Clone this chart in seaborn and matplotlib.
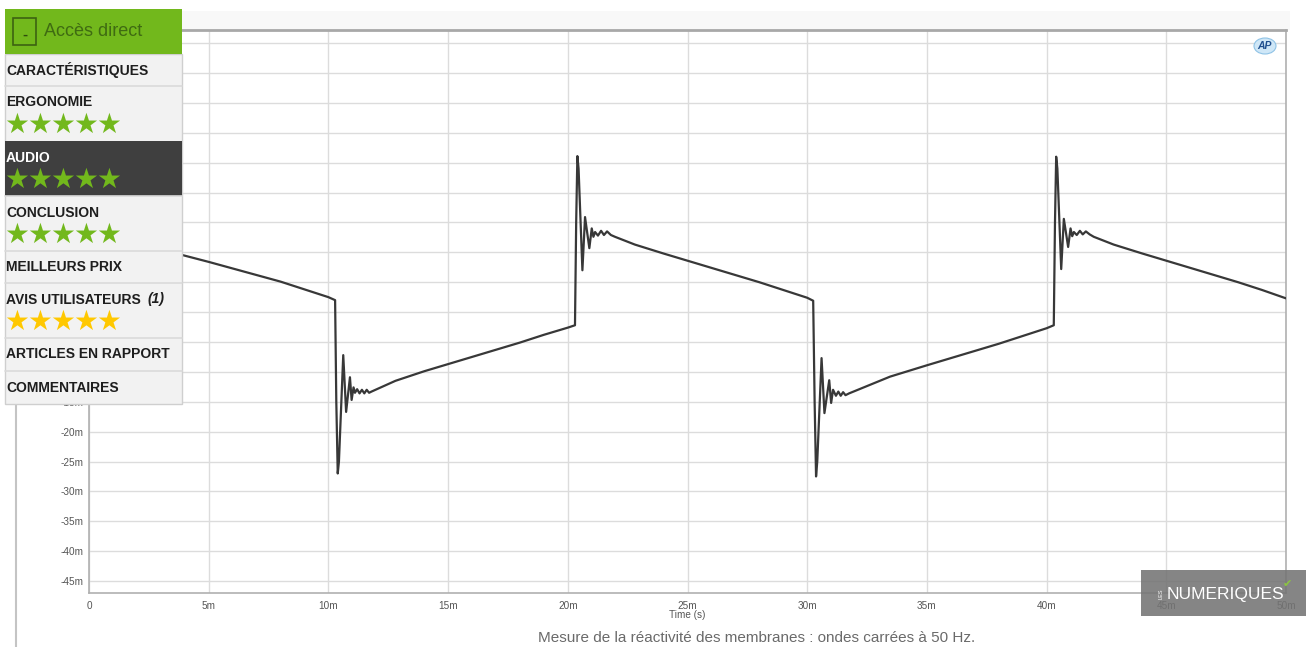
import matplotlib
matplotlib.use("Agg")
import numpy as np
import pandas as pd
import matplotlib.pyplot as plt
import seaborn as sns
from matplotlib.patches import Rectangle, Ellipse
from matplotlib.lines import Line2D

# ---------------- data ----------------
time_ms = [
    3.85, 5.0, 6.0, 7.0, 8.0, 9.0, 10.0, 10.28,
    10.33, 10.39, 10.44, 10.62, 10.74, 10.90, 10.97, 11.05, 11.11, 11.20, 11.30, 11.40, 11.50, 11.60, 11.70, 11.80,
    12.80, 14.0, 15.0, 16.0, 17.0, 18.0, 19.0, 20.0, 20.30,
    20.35, 20.40, 20.45, 20.61, 20.72, 20.90, 21.00, 21.07, 21.14, 21.26, 21.39, 21.51, 21.64, 21.80, 21.97,
    22.80, 24.0, 25.0, 26.0, 27.0, 28.0, 29.0, 30.0, 30.25,
    30.31, 30.37, 30.42, 30.60, 30.72, 30.92, 31.00, 31.08, 31.20, 31.30, 31.40, 31.50, 31.60, 31.75,
    33.46, 35.0, 36.0, 37.0, 38.0, 39.0, 40.0, 40.30,
    40.35, 40.40, 40.45, 40.61, 40.72, 40.90, 41.00, 41.07, 41.14, 41.26, 41.39, 41.51, 41.64, 41.80, 41.97,
    42.80, 44.0, 45.0, 46.0, 47.0, 48.0, 49.0, 50.0,
]
signal_mv = [
    9.6, 8.4, 7.3, 6.2, 5.1, 3.8, 2.5, 2.0,
    -15.0, -27.0, -25.0, -7.2, -16.7, -10.9, -14.7, -12.6, -13.5, -12.9, -13.6, -13.0, -13.6, -13.0, -13.5, -13.3,
    -11.5, -9.9, -8.7, -7.5, -6.3, -5.1, -3.8, -2.6, -2.2,
    15.0, 26.1, 24.0, 7.0, 15.9, 10.7, 14.0, 12.6, 13.4, 12.8, 13.6, 12.9, 13.5, 12.9, 12.6,
    11.3, 9.8, 8.6, 7.4, 6.2, 5.0, 3.7, 2.4, 1.9,
    -15.0, -27.5, -25.0, -7.7, -16.9, -11.4, -15.2, -13.0, -14.0, -13.3, -14.0, -13.4, -13.9, -13.6,
    -10.8, -8.9, -7.7, -6.5, -5.3, -4.0, -2.7, -2.2,
    15.0, 26.0, 24.0, 7.2, 15.6, 10.9, 14.0, 12.7, 13.4, 12.9, 13.6, 13.0, 13.5, 13.0, 12.6,
    11.3, 9.8, 8.6, 7.4, 6.2, 5.0, 3.7, 2.3,
]
x_ticks = [0, 5, 10, 15, 20, 25, 30, 35, 40, 45, 50]
x_tick_labels = ["0", "5m", "10m", "15m", "20m", "25m", "30m", "35m", "40m", "45m", "50m"]
y_ticks = [-45, -40, -35, -30, -25, -20, -15, -10, -5, 0, 5, 10, 15, 20, 25, 30, 35, 40, 45]
y_tick_labels = ["-45m", "-40m", "-35m", "-30m", "-25m", "-20m", "-15m", "-10m", "-5m", "0",
                 "5m", "10m", "15m", "20m", "25m", "30m", "35m", "40m", "45m"]
x_label = "Time (s)"
caption = "Mesure de la réactivité des membranes : ondes carrées à 50 Hz."
menu_title = "Accès direct"
menu_labels = ["CARACTÉRISTIQUES", "ERGONOMIE", "AUDIO", "CONCLUSION", "MEILLEURS PRIX",
               "AVIS UTILISATEURS", "ARTICLES EN RAPPORT", "COMMENTAIRES"]
menu_stars = [0, 5, 5, 5, 0, 5, 0, 0]

# ---------------- figure ----------------
sns.set_style("white")
plt.rcParams['font.family'] = ['Liberation Sans', 'DejaVu Sans']

W, H = 1306, 647
fig = plt.figure(figsize=(W / 100, H / 100), dpi=100)
fig.patch.set_facecolor("white")


def fx(x):
    return x / W


def fy(y):
    return 1 - y / H


# faint band above the plot
fig.add_artist(Rectangle((fx(180), fy(30)), fx(1290) - fx(180), fy(11) - fy(30),
                         transform=fig.transFigure, facecolor="#f8f8f8", edgecolor="none", zorder=-1))

ax = fig.add_axes([fx(89), fy(593), fx(1286) - fx(89), fy(30) - fy(593)])
df = pd.DataFrame({"t": time_ms, "v": signal_mv})
sns.lineplot(data=df, x="t", y="v", ax=ax, color="#383838", linewidth=1.6,
             sort=False, estimator=None, zorder=3)
ax.set_xlim(0, 50)
ax.set_ylim(-47, 47.2)
ax.set_xticks(x_ticks)
ax.set_xticklabels(x_tick_labels)
ax.set_yticks(y_ticks)
ax.set_yticklabels(y_tick_labels)
# labels lying under the navigation panel are hidden in the reference
for val, lab in zip(y_ticks, ax.get_yticklabels()):
    if val > -15:
        lab.set_visible(False)
ax.grid(True, color="#dcdcdc", linewidth=1.0)
ax.set_axisbelow(True)
ax.tick_params(length=0, labelsize=7.2, colors="#555555")
ax.tick_params(axis="x", pad=6)
ax.tick_params(axis="y", pad=4)
ax.set_xlabel(x_label, fontsize=7.2, color="#555555", labelpad=-1)
ax.set_ylabel("")
for side, sp in ax.spines.items():
    sp.set_color("#b0b0b0")
    sp.set_linewidth(1.2)
ax.spines["top"].set_color("#a8a8a8")
ax.spines["top"].set_linewidth(2.0)

# caption
fig.text(fx(757), fy(638), caption, ha="center", va="center", fontsize=11, color="#6a6a6a")

# page border line on the left
fig.add_artist(Line2D([fx(16), fx(16)], [fy(404), fy(647)], transform=fig.transFigure,
                      color="#c4c4c4", linewidth=1.5, zorder=5))

# AP logo
fig.add_artist(Ellipse((fx(1265), fy(46)), fx(22), 16 / H, transform=fig.transFigure,
                       facecolor="#cfe7f7", edgecolor="#8fc3e6", linewidth=0.8, zorder=6))
fig.text(fx(1264), fy(46), "AP", ha="center", va="center", fontsize=7.5, color="#1f4f8f",
         fontweight="bold", fontstyle="italic", zorder=7)

# LES NUMERIQUES logo box
fig.add_artist(Rectangle((fx(1141), fy(616)), fx(1306) - fx(1141), fy(570) - fy(616),
                         transform=fig.transFigure, facecolor="#747474", edgecolor="none",
                         alpha=0.88, zorder=8))
fig.text(fx(1167), fy(595), "NUMERIQUES", ha="left", va="center", fontsize=12.5,
         color="white", zorder=9)
fig.text(fx(1161), fy(594), "LES", ha="center", va="center", fontsize=4, color="white",
         rotation=90, zorder=9)
fig.text(fx(1287), fy(584), "✔", ha="center", va="center", fontsize=8, color="#8cc63f",
         family="DejaVu Sans", zorder=9)

# ---------------- navigation panel ----------------
PZ = 20
green = "#72b81c"
yellow = "#ffc800"
# panel body
fig.add_artist(Rectangle((fx(5), fy(404)), fx(182) - fx(5), fy(54) - fy(404),
                         transform=fig.transFigure, facecolor="#f2f2f2", edgecolor="#cfcfcf",
                         linewidth=1.0, zorder=PZ))
# header
fig.add_artist(Rectangle((fx(5), fy(54)), fx(182) - fx(5), fy(9) - fy(54),
                         transform=fig.transFigure, facecolor=green, edgecolor="none", zorder=PZ + 1))
fig.add_artist(Rectangle((fx(13), fy(45)), fx(36) - fx(13), fy(18) - fy(45),
                         transform=fig.transFigure, facecolor="none", edgecolor="#3d6212",
                         linewidth=1.2, zorder=PZ + 2))
fig.text(fx(24.5), fy(35), "-", ha="center", va="center", fontsize=11, fontweight="bold",
         color="#2f4d0d", zorder=PZ + 3)
fig.text(fx(44), fy(31), menu_title, ha="left", va="center", fontsize=13, color="#3f6b12",
         zorder=PZ + 3)

rows = [(54, 86), (86, 141), (141, 196), (196, 251), (251, 283), (283, 338), (338, 371), (371, 404)]
for i, (lab, (top, bot)) in enumerate(zip(menu_labels, rows)):
    dark = lab == "AUDIO"
    if dark:
        fig.add_artist(Rectangle((fx(5), fy(bot)), fx(182) - fx(5), fy(top) - fy(bot),
                                 transform=fig.transFigure, facecolor="#3f3f3f", edgecolor="none",
                                 zorder=PZ + 1))
    elif i > 0:
        fig.add_artist(Line2D([fx(5), fx(182)], [fy(top), fy(top)], transform=fig.transFigure,
                              color="#dadada", linewidth=1.2, zorder=PZ + 1))
    base = top + 20.5
    fig.text(fx(6), fy(base), lab, ha="left", va="baseline", fontsize=10, fontweight="bold",
             color="white" if dark else "#1e1e1e", zorder=PZ + 3)
    if lab == "AVIS UTILISATEURS":
        fig.text(fx(147), fy(base), "(1)", ha="left", va="baseline", fontsize=10, fontweight="bold",
                 fontstyle="italic", color="#1e1e1e", zorder=PZ + 3)
    n = menu_stars[i]
    if n:
        col = yellow if lab.startswith("AVIS") else green
        for k in range(n):
            fig.text(fx(17 + 23 * k), fy(top + 39), "★", ha="center", va="center", fontsize=20,
                     color=col, family="DejaVu Sans", zorder=PZ + 3)

fig.savefig("out.png", dpi=100)
